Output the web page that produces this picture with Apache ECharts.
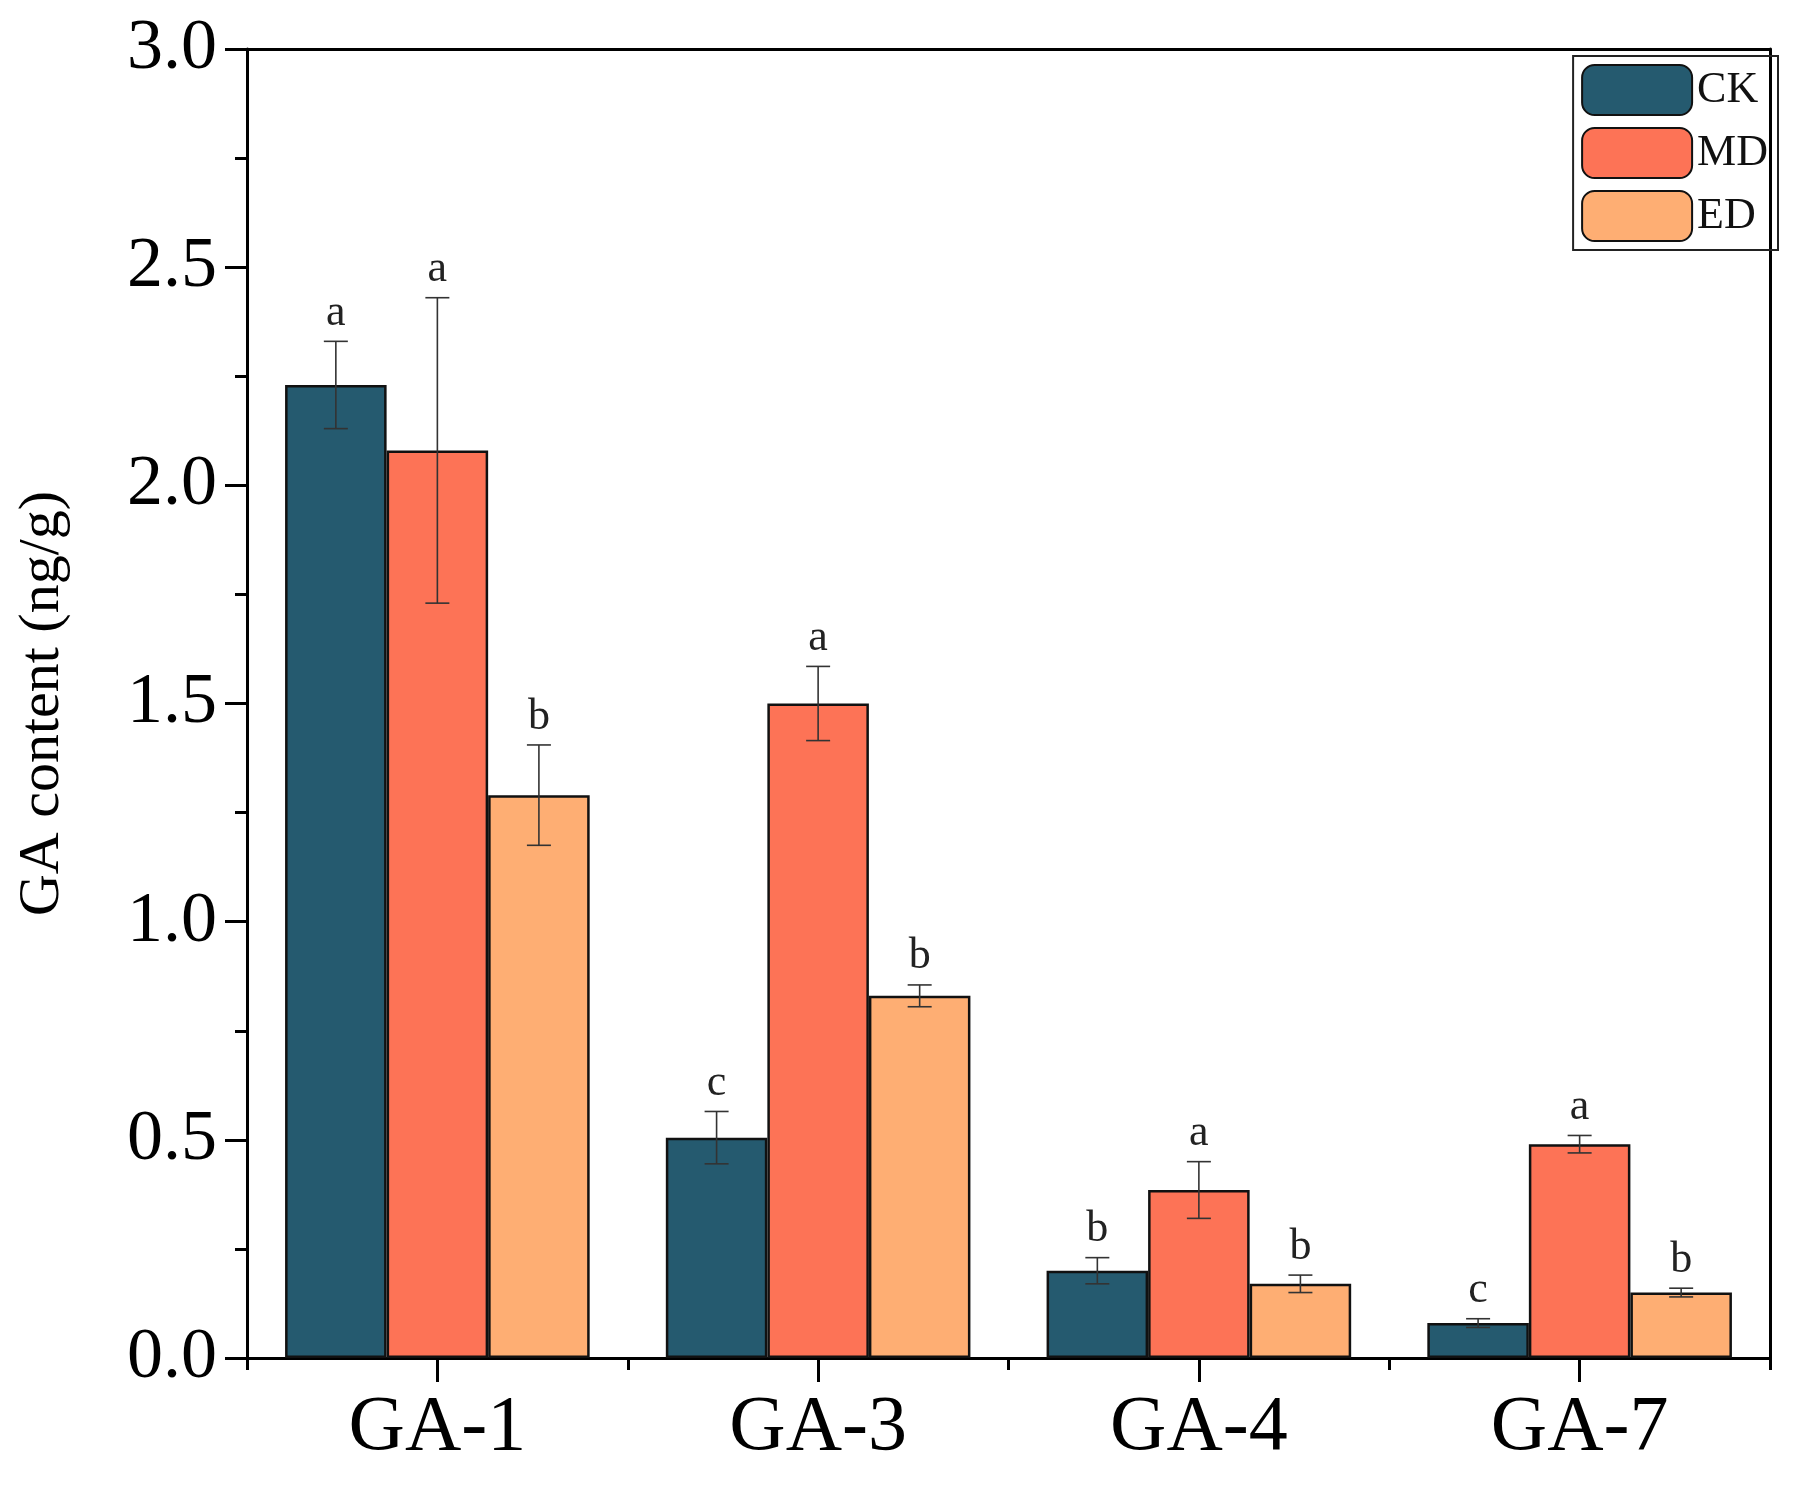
<!DOCTYPE html>
<html><head><meta charset="utf-8">
<script src="https://cdn.jsdelivr.net/npm/echarts@6/dist/echarts.min.js"></script>
<style>html,body{margin:0;padding:0;background:#fff}#c{width:1814px;height:1490px}</style>
</head><body><div id="c"></div>
<script>
const categories = ['GA-1','GA-3','GA-4','GA-7'];
const seriesNames = ['CK','MD','ED'];
const colors = ['#255a6f','#fd7356','#feae73'];
const values = [
  [2.23, 0.505, 0.20, 0.08],
  [2.08, 1.50, 0.385, 0.49],
  [1.29, 0.83, 0.17, 0.15]
];
const errors = [
  [0.10, 0.06, 0.03, 0.01],
  [0.35, 0.085, 0.065, 0.02],
  [0.115, 0.025, 0.02, 0.01]
];
const letters = [
  ['a','c','b','c'],
  ['a','a','a','a'],
  ['b','b','b','b']
];
const yTicks = ['0.0','0.5','1.0','1.5','2.0','2.5','3.0'];
const font = '"Liberation Serif","Times New Roman",serif';
const chart = echarts.init(document.getElementById('c'));
const nS = seriesNames.length;
const catGap = 0.2;
function errSeries(s){
  return {
    type:'custom', name:seriesNames[s]+'_err', xAxisIndex:0, yAxisIndex:0, z:5, silent:true,
    data: categories.map((c,i)=>[i, values[s][i], errors[s][i], letters[s][i]]),
    renderItem(params, api){
      const i = api.value(0), v = api.value(1), e = api.value(2);
      const band = api.size([1,0])[0];
      const bw = band*(1-catGap)/nS;
      const cx = api.coord([i,0])[0] - band*(1-catGap)/2 + bw*(s+0.5);
      const top = api.coord([i, v+e])[1], bot = api.coord([i, v-e])[1];
      const cap = 12;
      const st = {stroke:'#333', lineWidth:1.6};
      return {type:'group', children:[
        {type:'line', shape:{x1:cx,y1:top,x2:cx,y2:bot}, style:st},
        {type:'line', shape:{x1:cx-cap,y1:top,x2:cx+cap,y2:top}, style:st},
        {type:'line', shape:{x1:cx-cap,y1:bot,x2:cx+cap,y2:bot}, style:st},
        {type:'text', x:cx, y:top-6, style:{text:api.value(3), font:'44px '+font, fill:'#222', align:'center', verticalAlign:'bottom'}}
      ]};
    }
  };
}
const series = [];
for(let s=0;s<nS;s++){
  series.push({type:'bar', name:seriesNames[s], data:values[s], barGap:'0%', barCategoryGap:(catGap*100)+'%',
    itemStyle:{color:colors[s], borderColor:'#111', borderWidth:2.5}});
}
for(let s=0;s<nS;s++) series.push(errSeries(s));
chart.setOption({
  animation:false,
  grid:{left:247, right:44, top:49, bottom:132},
  legend:{data:seriesNames, right:36, top:56, orient:'vertical', itemWidth:110, itemHeight:50, itemGap:11,
    padding:[8,10,8,8], borderColor:'#222', borderWidth:2,
    textStyle:{fontFamily:font, fontSize:44, color:'#111'}},
  xAxis:[
    {type:'category', data:categories, boundaryGap:true,
     axisLine:{lineStyle:{color:'#000', width:3}},
     axisTick:{show:true, interval:0, length:12, lineStyle:{color:'#000', width:3}},
     axisLabel:{fontFamily:font, fontSize:78, color:'#000', margin:32}},
    {type:'category', data:categories, position:'bottom', boundaryGap:true,
     axisLine:{show:false}, axisLabel:{show:false},
     axisTick:{show:true, alignWithLabel:true, length:24, lineStyle:{color:'#000', width:3}}},
    {type:'category', data:categories, position:'top', axisLine:{lineStyle:{color:'#000', width:3}}, axisTick:{show:false}, axisLabel:{show:false}}
  ],
  yAxis:[
    {type:'value', min:0, max:3, interval:0.5, name:'GA content (ng/g)', nameLocation:'middle', nameGap:175,
     nameTextStyle:{fontFamily:font, fontSize:58, color:'#000'},
     axisLine:{show:true, lineStyle:{color:'#000', width:3}},
     axisTick:{show:true, length:22, lineStyle:{color:'#000', width:3}},
     minorTick:{show:true, splitNumber:2, length:12, lineStyle:{color:'#000', width:3}},
     splitLine:{show:false},
     axisLabel:{fontFamily:font, fontSize:72, color:'#000', margin:30, formatter:(v)=>yTicks[Math.round(v*2)]}},
    {type:'value', min:0, max:3, position:'right', axisLine:{show:true, lineStyle:{color:'#000', width:3}}, axisTick:{show:false}, axisLabel:{show:false}, splitLine:{show:false}}
  ],
  series
});
</script></body></html>
